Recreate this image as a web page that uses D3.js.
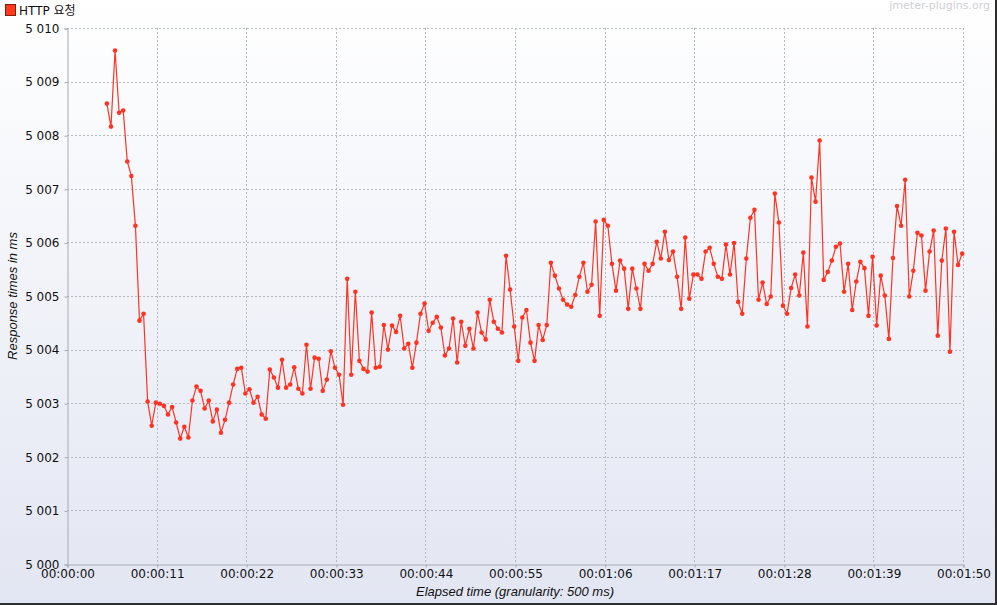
<!DOCTYPE html>
<html><head><meta charset="utf-8">
<script src="https://cdn.jsdelivr.net/npm/d3@7"></script>
<style>body{margin:0;background:#fff}svg{display:block}</style>
</head><body>
<svg id="chart" width="997" height="605"></svg>
<script>
// ---------------- data ----------------
const seriesName = "HTTP 요청";
const startSec = 4.9;          // elapsed time of the first sample
const granularitySec = 0.5;    // sample spacing
const responseTimes = [
5008.59,5008.16,5009.58,5008.42,5008.46,5007.51,5007.24,5006.31,5004.54,5004.67,
5003.03,5002.58,5003.01,5002.99,5002.95,5002.79,5002.93,5002.64,5002.34,5002.56,
5002.36,5003.05,5003.31,5003.23,5002.90,5003.05,5002.66,5002.88,5002.45,5002.69,
5003.01,5003.35,5003.64,5003.66,5003.18,5003.26,5003.01,5003.12,5002.79,5002.71,
5003.63,5003.48,5003.29,5003.81,5003.29,5003.35,5003.67,5003.27,5003.18,5004.09,
5003.27,5003.85,5003.83,5003.23,5003.44,5003.97,5003.66,5003.53,5002.97,5005.32,
5003.53,5005.08,5003.79,5003.64,5003.59,5004.69,5003.66,5003.68,5004.46,5004.00,
5004.45,5004.33,5004.63,5004.02,5004.11,5003.66,5004.13,5004.67,5004.86,5004.35,
5004.50,5004.61,5004.41,5003.89,5004.02,5004.58,5003.76,5004.52,5004.07,5004.39,
5004.02,5004.69,5004.32,5004.19,5004.93,5004.52,5004.39,5004.32,5005.75,5005.12,
5004.43,5003.79,5004.60,5004.74,5004.13,5003.79,5004.46,5004.18,5004.46,5005.62,
5005.38,5005.14,5004.93,5004.84,5004.80,5005.02,5005.36,5005.62,5005.08,5005.21,
5006.39,5004.63,5006.42,5006.31,5005.60,5005.10,5005.66,5005.51,5004.76,5005.51,
5005.14,5004.76,5005.60,5005.47,5005.60,5006.01,5005.70,5006.20,5005.67,5005.83,
5005.36,5004.76,5006.09,5004.95,5005.40,5005.40,5005.32,5005.83,5005.90,5005.60,
5005.36,5005.32,5005.96,5005.40,5005.99,5004.89,5004.67,5005.70,5006.46,5006.61,
5004.93,5005.25,5004.85,5004.99,5006.91,5006.37,5004.82,5004.67,5005.15,5005.40,
5005.01,5005.81,5004.43,5007.21,5006.76,5007.90,5005.30,5005.45,5005.66,5005.92,
5005.98,5005.08,5005.60,5004.74,5005.27,5005.64,5005.52,5004.63,5005.73,5004.45,
5005.38,5005.01,5004.20,5005.71,5006.68,5006.31,5007.17,5004.99,5005.47,5006.18,
5006.13,5005.10,5005.83,5006.22,5004.26,5005.66,5006.26,5003.96,5006.20,5005.58,
5005.79
];
const xTickSeconds = [0,11,22,33,44,55,66,77,88,99,110];
const yTickValues = [5000,5001,5002,5003,5004,5005,5006,5007,5008,5009,5010];
const xDomain = [0,110];
const yDomain = [5000,5010];
const xTitle = "Elapsed time (granularity: 500 ms)";
const yTitle = "Response times in ms";
const watermark = "jmeter-plugins.org";

// ---------------- drawing ----------------
const W = 997, H = 605;
const m = {left:67, right:34, top:28, bottom:41};
const svg = d3.select("#chart");
const font = "'DejaVu Sans','Noto Sans CJK KR',sans-serif";

const defs = svg.append("defs");
const g1 = defs.append("linearGradient").attr("id","bg").attr("x1",0).attr("y1",0).attr("x2",0).attr("y2",1);
g1.append("stop").attr("offset","0%").attr("stop-color","#ffffff");
g1.append("stop").attr("offset","100%").attr("stop-color","#e2e6f2");
svg.append("rect").attr("width",W).attr("height",H).attr("fill","url(#bg)");

// dark frame on right & bottom
svg.append("rect").attr("x",W-2).attr("y",0).attr("width",2).attr("height",H).attr("fill","#2e2e2e");
svg.append("rect").attr("x",0).attr("y",H-2).attr("width",W).attr("height",2).attr("fill","#2e2e2e");

const x = d3.scaleLinear().domain(xDomain).range([m.left, W-m.right]);
const y = d3.scaleLinear().domain(yDomain).range([H-m.bottom, m.top]);

const pad = n => String(n).padStart(2,"0");
const fmtTime = s => `${pad(Math.floor(s/3600))}:${pad(Math.floor(s%3600/60))}:${pad(Math.floor(s%60))}`;
const loc = d3.formatLocale({decimal:".", thousands:" ", grouping:[3], currency:["",""]});
const fmtY = loc.format(",d");

// grid
const grid = svg.append("g").attr("stroke","#b6babf").attr("stroke-dasharray","2,2").attr("stroke-width",1);
grid.selectAll("line.h").data(yTickValues.filter(v=>v>yDomain[0])).join("line")
  .attr("x1",m.left).attr("x2",W-m.right).attr("y1",d=>Math.round(y(d))+0.5).attr("y2",d=>Math.round(y(d))+0.5);
grid.selectAll("line.v").data(xTickSeconds.filter(v=>v>xDomain[0])).join("line")
  .attr("y1",m.top).attr("y2",H-m.bottom).attr("x1",d=>Math.round(x(d))+0.5).attr("x2",d=>Math.round(x(d))+0.5);

// axes
const xAxis = d3.axisBottom(x).tickValues(xTickSeconds).tickFormat(fmtTime).tickSize(3).tickPadding(2);
const yAxis = d3.axisLeft(y).tickValues(yTickValues).tickFormat(fmtY).tickSize(3).tickPadding(5);
const gx = svg.append("g").attr("transform",`translate(0.5,${Math.round(y(yDomain[0]))+0.5})`).call(xAxis);
const gy = svg.append("g").attr("transform",`translate(${m.left+0.5},0.5)`).call(yAxis);
[gx,gy].forEach(g=>{
  g.select(".domain").attr("stroke","#a6aab2");
  g.selectAll(".tick line").attr("stroke","#a6aab2");
  g.selectAll("text").attr("font-family",font).attr("font-size",12).attr("fill","#111");
});
gx.selectAll("text").attr("dy","0.72em");

// axis titles
svg.append("text").attr("x",(m.left+W-m.right)/2).attr("y",596).attr("text-anchor","middle")
  .attr("font-family","'Liberation Sans',Arial,sans-serif").attr("font-style","italic").attr("font-size",13)
  .attr("fill","#111").text(xTitle);
svg.append("text").attr("transform",`translate(17,${(m.top+H-m.bottom)/2}) rotate(-90)`).attr("text-anchor","middle")
  .attr("font-family","'Liberation Sans',Arial,sans-serif").attr("font-style","italic").attr("font-size",13)
  .attr("fill","#111").text(yTitle);

// legend
svg.append("rect").attr("x",5.5).attr("y",4.5).attr("width",10).attr("height",11)
  .attr("fill","#ff3a1a").attr("stroke","#8a1a0a").attr("stroke-width",1);
svg.append("text").attr("x",19).attr("y",15).attr("font-family",font).attr("font-size",12).attr("fill","#111").text(seriesName);

// watermark
svg.append("text").attr("x",990).attr("y",9).attr("text-anchor","end").attr("font-family","'DejaVu Sans',sans-serif")
  .attr("font-size",11).attr("fill","#cfcfd4").text(watermark);

// series
const pts = responseTimes.map((v,i)=>({t:startSec+i*granularitySec, v}));
const line = d3.line().x(d=>x(d.t)).y(d=>y(d.v));
svg.append("path").datum(pts).attr("d",line).attr("fill","none").attr("stroke","#ff3322").attr("stroke-width",1.2);
svg.append("g").selectAll("circle").data(pts).join("circle")
  .attr("cx",d=>x(d.t)).attr("cy",d=>y(d.v)).attr("r",2.3).attr("fill","#ff3322");
</script>
</body></html>
